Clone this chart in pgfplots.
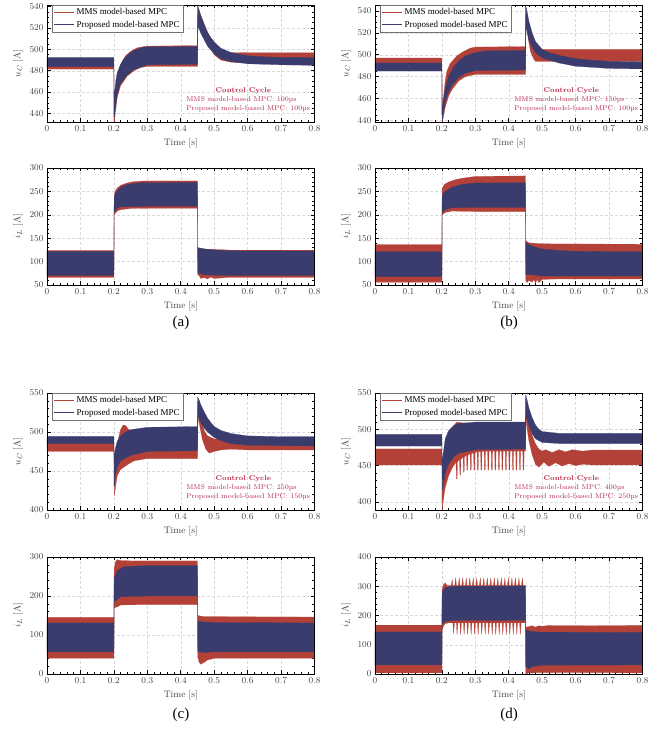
\documentclass[border=0pt]{standalone}
\usepackage{fontspec}
\usepackage{pgfplots}
\pgfplotsset{compat=1.18}
\usepgfplotslibrary{fillbetween}
\newfontfamily\timesf{Liberation Serif}
\definecolor{mmsred}{RGB}{180,65,55}
\definecolor{propblue}{RGB}{58,60,110}
\definecolor{ccred}{RGB}{185,40,75}

\pgfplotsset{
  panel/.style={
    scale only axis, width=267.5pt, height=117pt,
    xmin=0, xmax=0.8, xtick={0,0.1,0.2,0.3,0.4,0.5,0.6,0.7,0.8},
    minor x tick num=4,
    grid=major, major grid style={dash pattern=on 3pt off 2pt, black!15, line width=0.4pt},
    tick align=inside, major tick length=3.5pt, minor tick length=2pt,
    every tick/.style={black, line width=0.5pt},
    axis line style={black, line width=0.8pt},
    tick label style={font=\fontsize{9.5}{10}\selectfont, text=black!75},
    label style={font=\fontsize{9.5}{10}\selectfont, text=black!75},
    xlabel={Time [s]},
    clip=false,
    legend style={at={(0.018,1)}, anchor=north west, draw=black!55, line width=0.5pt,
      font=\timesf\fontsize{9}{10}\selectfont, inner sep=1.5pt, row sep=0.5pt},
    legend cell align=left,
    legend image code/.code={\draw[##1] (0pt,0pt) -- (20pt,0pt);},
  },
  edge/.style={draw=none, forget plot},
}
\newcommand{\band}[3]{\addplot[fill=#1, draw=#1, line width=0.2pt, forget plot] fill between[of=#2 and #3];}
\newcommand{\boxline}{\draw[black, line width=0.8pt] (rel axis cs:0,0) rectangle (rel axis cs:1,1);}
\newcommand{\cyclenote}[2]{%
  \node[anchor=center, inner sep=0pt, font=\bfseries\fontsize{7}{9}\selectfont, text=ccred] at (rel axis cs:0.734,0.271) {Control Cycle};
  \node[anchor=west, inner sep=0pt, font=\fontsize{7}{9}\selectfont, text=ccred] at (rel axis cs:0.52,0.191) {MMS model-based MPC: #1\textmu s};
  \node[anchor=west, inner sep=0pt, font=\fontsize{7}{9}\selectfont, text=ccred] at (rel axis cs:0.52,0.114) {Proposed model-based MPC: #2\textmu s};
  \addlegendimage{mmsred, line width=1pt}\addlegendentry{MMS model-based MPC}
  \addlegendimage{propblue, line width=1pt}\addlegendentry{Proposed model-based MPC}
}

\begin{document}
\begin{tikzpicture}

% ---------------- (a) top: u_C ----------------
\begin{axis}[panel, at={(47pt,618pt)}, anchor=south west,
  ymin=432, ymax=541.5, ytick={440,460,480,500,520,540}, minor y tick num=3,
  ylabel={$u_C$ [A]}]
\addplot[edge, name path=aru] coordinates {(0,487) (0.2,487) (0.2003,440) (0.2015,445) (0.205,462) (0.21,476) (0.22,486) (0.235,494) (0.25,498) (0.27,501.5) (0.3,503) (0.45,503.5) (0.4505,541) (0.455,537) (0.46,532) (0.47,524) (0.48,516) (0.49,510) (0.5,505) (0.52,500) (0.55,497) (0.6,496.8) (0.8,496.8)};
\addplot[edge, name path=arl] coordinates {(0,481.5) (0.2,481.5) (0.2003,432) (0.2015,432) (0.205,442) (0.21,455) (0.22,466) (0.24,475) (0.26,480) (0.28,483) (0.3,484) (0.45,484) (0.4505,484) (0.4515,530) (0.455,526) (0.46,520) (0.47,512) (0.48,505) (0.5,495) (0.52,490) (0.55,488) (0.6,487.5) (0.65,487) (0.8,487)};
\band{mmsred}{aru}{arl}
\addplot[edge, name path=abu] coordinates {(0,492.5) (0.2,492.5) (0.2003,460) (0.203,462) (0.206,471) (0.21,478) (0.219,485) (0.23,491) (0.245,496) (0.26,499) (0.29,502.3) (0.45,502.5) (0.4505,540) (0.455,536) (0.46,531) (0.47,523) (0.48,516) (0.49,511) (0.5,507) (0.52,501) (0.55,497) (0.6,494) (0.65,493) (0.7,492.5) (0.8,492.3)};
\addplot[edge, name path=abl] coordinates {(0,483.75) (0.2,483.75) (0.2003,437) (0.2015,437) (0.205,446) (0.21,458) (0.22,468) (0.24,476) (0.26,481) (0.3,485.5) (0.45,486) (0.4505,486) (0.4515,522) (0.46,515) (0.47,509) (0.48,503) (0.5,496) (0.52,491) (0.55,488.5) (0.6,486.5) (0.7,485.5) (0.8,485)};
\band{propblue}{abu}{abl}
\boxline
\cyclenote{100}{100}
\end{axis}

% ---------------- (a) bottom: i_L ----------------
\begin{axis}[panel, at={(47pt,455pt)}, anchor=south west,
  ymin=50, ymax=300, ytick={50,100,150,200,250,300}, minor y tick num=4,
  ylabel={$i_L$ [A]}]
\addplot[edge, name path=aru] coordinates {(0,124) (0.2,124) (0.2008,240) (0.205,252) (0.21,257) (0.22,263) (0.24,268) (0.26,271) (0.3,272.5) (0.45,272.5) (0.4505,129) (0.47,127) (0.5,126) (0.55,124.5) (0.8,124.5)};
\addplot[edge, name path=arl] coordinates {(0,66.5) (0.2,66.5) (0.2008,200) (0.205,204) (0.21,208) (0.22,211) (0.25,213.5) (0.3,214) (0.45,214) (0.4505,72) (0.455,70) (0.46,64) (0.47,66) (0.48,63) (0.49,67) (0.5,64) (0.55,66.5) (0.8,66.5)};
\band{mmsred}{aru}{arl}
\addplot[edge, name path=abu] coordinates {(0,122) (0.2,122) (0.2008,235) (0.205,247) (0.21,251) (0.22,259) (0.24,265) (0.28,268.5) (0.45,269.5) (0.4505,130) (0.47,127) (0.5,125) (0.55,123) (0.8,122.5)};
\addplot[edge, name path=abl] coordinates {(0,70) (0.2,70) (0.2008,205) (0.21,214) (0.22,217) (0.3,218) (0.45,218) (0.4505,76) (0.47,72) (0.5,71) (0.55,70) (0.8,70)};
\band{propblue}{abu}{abl}
\boxline
\end{axis}

% ---------------- (b) top ----------------
\begin{axis}[panel, at={(375pt,618pt)}, anchor=south west,
  ymin=438.5, ymax=545.5, ytick={440,460,480,500,520,540}, minor y tick num=3,
  ylabel={$u_C$ [A]}]
\addplot[edge, name path=bru] coordinates {(0,497) (0.2,497) (0.2003,445) (0.205,462) (0.21,476) (0.215,485) (0.225,492) (0.245,499) (0.265,503) (0.285,506) (0.3,507) (0.45,507.5) (0.4505,545) (0.455,537) (0.46,526) (0.465,515) (0.47,508) (0.48,505) (0.8,505)};
\addplot[edge, name path=brl] coordinates {(0,488) (0.2,488) (0.2015,438.5) (0.205,444) (0.21,452) (0.22,462) (0.23,468) (0.25,476) (0.27,480) (0.3,482) (0.45,482) (0.4505,482) (0.4515,530) (0.458,515) (0.465,503) (0.475,496) (0.48,494) (0.5,494) (0.8,494)};
\band{mmsred}{bru}{brl}
\addplot[edge, name path=bbu] coordinates {(0,492.5) (0.2,492.5) (0.2003,445) (0.205,458) (0.21,469) (0.22,480) (0.235,489) (0.25,494) (0.27,499) (0.3,502) (0.33,503.5) (0.45,504) (0.4505,545) (0.455,539) (0.46,531) (0.47,520) (0.48,512) (0.5,505) (0.52,502) (0.55,499.5) (0.6,496.5) (0.65,495) (0.7,494) (0.8,493.5)};
\addplot[edge, name path=bbl] coordinates {(0,485) (0.2,485) (0.2015,440) (0.205,448) (0.21,457) (0.22,466) (0.23,472) (0.25,479) (0.27,483) (0.3,485.5) (0.45,486) (0.4505,486) (0.4515,526) (0.46,514) (0.47,507) (0.48,502) (0.5,497) (0.55,492.5) (0.6,489.5) (0.7,487.5) (0.8,487)};
\band{propblue}{bbu}{bbl}
\boxline
\cyclenote{150}{100}
\end{axis}

% ---------------- (b) bottom ----------------
\begin{axis}[panel, at={(375pt,455pt)}, anchor=south west,
  ymin=50, ymax=300, ytick={50,100,150,200,250,300}, minor y tick num=4,
  ylabel={$i_L$ [A]}]
\addplot[edge, name path=bru] coordinates {(0,136) (0.2,136) (0.2008,255) (0.205,262) (0.21,266) (0.22,270) (0.24,275) (0.26,278) (0.3,282) (0.45,283) (0.4505,145) (0.46,140) (0.5,138) (0.8,137)};
\addplot[edge, name path=brl] coordinates {(0,56) (0.2,56) (0.2008,200) (0.21,205) (0.23,208) (0.3,207) (0.45,207) (0.4505,60) (0.455,55) (0.46,60) (0.47,56) (0.475,62) (0.48,54) (0.485,62) (0.49,55) (0.5,62) (0.55,63) (0.8,63)};
\band{mmsred}{bru}{brl}
\addplot[edge, name path=bbu] coordinates {(0,121) (0.2,121) (0.2008,240) (0.205,246) (0.21,250) (0.23,259) (0.26,265) (0.3,268) (0.45,268.5) (0.4505,140) (0.47,133) (0.5,127) (0.55,124) (0.6,122) (0.8,121)};
\addplot[edge, name path=bbl] coordinates {(0,68) (0.2,68) (0.2008,205) (0.21,211) (0.23,215) (0.3,216) (0.45,216) (0.4505,72) (0.47,72) (0.5,69) (0.8,69)};
\band{propblue}{bbu}{bbl}
\boxline
\end{axis}

% ---------------- (c) top ----------------
\begin{axis}[panel, at={(47pt,230pt)}, anchor=south west,
  ymin=400, ymax=550, ytick={400,450,500,550}, minor y tick num=4,
  ylabel={$u_C$ [A]}]
\addplot[edge, name path=cru] coordinates {(0,488) (0.2,488) (0.2003,430) (0.205,455) (0.21,478) (0.215,494) (0.22,503) (0.228,509) (0.235,508) (0.245,503) (0.26,500) (0.3,500) (0.45,500) (0.4505,540) (0.455,528) (0.46,515) (0.47,502) (0.48,495) (0.5,491) (0.55,490) (0.8,490)};
\addplot[edge, name path=crl] coordinates {(0,475) (0.2,475) (0.2015,418) (0.205,430) (0.21,444) (0.22,452) (0.24,458) (0.26,463) (0.3,466) (0.45,466) (0.4505,466) (0.4515,520) (0.458,505) (0.465,490) (0.475,478) (0.485,473) (0.5,475) (0.52,477) (0.55,478) (0.6,477) (0.8,477)};
\band{mmsred}{cru}{crl}
\addplot[edge, name path=cbu] coordinates {(0,494.5) (0.2,494.5) (0.2003,470) (0.205,480) (0.21,488) (0.22,495) (0.235,500) (0.25,503) (0.3,506) (0.45,507) (0.4505,545) (0.455,541) (0.46,535) (0.47,526) (0.48,518) (0.49,512) (0.5,507) (0.52,502) (0.55,498) (0.6,495) (0.7,494) (0.8,494)};
\addplot[edge, name path=cbl] coordinates {(0,485) (0.2,485) (0.2015,430) (0.205,445) (0.21,455) (0.22,463) (0.25,470) (0.3,475) (0.45,476) (0.4505,476) (0.4515,522) (0.46,512) (0.47,505) (0.48,500) (0.5,493) (0.52,489) (0.55,485) (0.6,483) (0.8,482)};
\band{propblue}{cbu}{cbl}
\boxline
\cyclenote{250}{150}
\end{axis}

% ---------------- (c) bottom ----------------
\begin{axis}[panel, at={(47pt,66pt)}, anchor=south west,
  ymin=0, ymax=300, ytick={0,100,200,300}, minor y tick num=4,
  ylabel={$i_L$ [A]}]
\addplot[edge, name path=cru] coordinates {(0,145) (0.2,145) (0.2008,270) (0.205,288) (0.21,293) (0.22,291) (0.25,290) (0.45,290) (0.4505,150) (0.47,147) (0.8,146)};
\addplot[edge, name path=crl] coordinates {(0,40) (0.2,40) (0.2008,170) (0.21,172) (0.22,177) (0.3,178) (0.45,178) (0.4505,45) (0.455,30) (0.46,25) (0.47,30) (0.48,36) (0.5,40) (0.8,40)};
\band{mmsred}{cru}{crl}
\addplot[edge, name path=cbu] coordinates {(0,131) (0.2,131) (0.2008,245) (0.21,265) (0.23,275) (0.3,278) (0.45,278) (0.4505,135) (0.5,132) (0.8,131)};
\addplot[edge, name path=cbl] coordinates {(0,57) (0.2,57) (0.2008,185) (0.22,198) (0.3,200) (0.45,200) (0.4505,58) (0.47,55) (0.5,57) (0.8,57)};
\band{propblue}{cbu}{cbl}
\boxline
\end{axis}

% ---------------- (d) top ----------------
\begin{axis}[panel, at={(375pt,230pt)}, anchor=south west,
  ymin=389, ymax=550, ytick={400,450,500,550}, minor y tick num=4,
  ylabel={$u_C$ [A]}]
\addplot[edge, name path=dru] coordinates {(0,473) (0.2,473) (0.2003,400) (0.205,440) (0.21,470) (0.22,490) (0.235,505) (0.245,510) (0.26,509) (0.3,508) (0.45,508) (0.4505,545) (0.455,528) (0.46,510) (0.47,492) (0.48,480) (0.49,473) (0.5,470) (0.51,472) (0.53,468) (0.55,472) (0.57,469) (0.59,472) (0.62,470) (0.65,471.5) (0.8,471.5)};
\addplot[edge, name path=drl] coordinates {(0,451) (0.2,451) (0.2015,389) (0.205,405) (0.21,420) (0.215,428) (0.22,436) (0.225,441) (0.23,446) (0.235,450) (0.24,453)
 (0.2425,455) (0.2435,432) (0.2455,432) (0.2465,455) (0.253,459) (0.254,437) (0.256,437) (0.257,459) (0.2635,462) (0.2645,441) (0.2665,441) (0.2675,462)
 (0.274,464.5) (0.275,444) (0.277,444) (0.278,464.5) (0.2845,466.5) (0.2855,444) (0.2875,444) (0.2885,466.5) (0.295,468) (0.296,444) (0.298,444) (0.299,468)
 (0.3055,469) (0.3065,444) (0.3085,444) (0.3095,469) (0.316,469.5) (0.317,444) (0.319,444) (0.32,469.5) (0.3265,470) (0.3275,444) (0.3295,444) (0.3305,470)
 (0.337,470) (0.338,444) (0.34,444) (0.341,470) (0.3475,470) (0.3485,444) (0.3505,444) (0.3515,470) (0.358,470) (0.359,444) (0.361,444) (0.362,470)
 (0.3685,470) (0.3695,444) (0.3715,444) (0.3725,470) (0.379,470) (0.38,444) (0.382,444) (0.383,470) (0.3895,470) (0.3905,444) (0.3925,444) (0.3935,470)
 (0.4,470) (0.401,444) (0.403,444) (0.404,470) (0.4105,470) (0.4115,444) (0.4135,444) (0.4145,470) (0.421,470) (0.422,444) (0.424,444) (0.425,470)
 (0.4315,470) (0.4325,444) (0.4345,444) (0.4355,470) (0.442,470) (0.443,444) (0.445,444) (0.446,470)
 (0.45,470) (0.4505,470) (0.4515,515) (0.455,500) (0.46,485) (0.47,465) (0.48,452) (0.49,448) (0.505,455) (0.52,449) (0.54,454) (0.56,449.5) (0.58,453) (0.6,450) (0.62,452) (0.65,451) (0.8,451)};
\band{mmsred}{dru}{drl}
\addplot[edge, name path=dbu] coordinates {(0,493) (0.2,493) (0.2003,455) (0.205,470) (0.21,487) (0.22,498) (0.235,505) (0.25,508) (0.3,510) (0.45,510) (0.4505,548) (0.455,540) (0.46,530) (0.47,516) (0.48,506) (0.49,500) (0.5,497) (0.55,494.5) (0.8,494.5)};
\addplot[edge, name path=dbl] coordinates {(0,477) (0.2,477) (0.2015,415) (0.205,425) (0.21,440) (0.22,452) (0.235,462) (0.25,467) (0.3,472) (0.45,473) (0.4505,473) (0.4515,520) (0.46,505) (0.47,494) (0.48,487) (0.5,482) (0.55,480.5) (0.8,480.5)};
\band{propblue}{dbu}{dbl}
\boxline
\cyclenote{400}{250}
\end{axis}

% ---------------- (d) bottom ----------------
\begin{axis}[panel, at={(375pt,66pt)}, anchor=south west,
  ymin=0, ymax=400, ytick={0,100,200,300,400}, minor y tick num=4,
  ylabel={$i_L$ [A]}]
\addplot[edge, name path=dru] coordinates {(0,167) (0.2,167) (0.2008,290) (0.205,305) (0.21,312) (0.215,303) (0.22,303)
 (0.228,303) (0.231,322) (0.233,303) (0.2385,303) (0.2415,328) (0.2435,303) (0.249,303) (0.252,328) (0.254,303)
 (0.2595,303) (0.2625,328) (0.2645,303) (0.27,303) (0.273,328) (0.275,303) (0.2805,303) (0.2835,328) (0.2855,303)
 (0.291,303) (0.294,328) (0.296,303) (0.3015,303) (0.3045,328) (0.3065,303) (0.312,303) (0.315,328) (0.317,303)
 (0.3225,303) (0.3255,328) (0.3275,303) (0.333,303) (0.336,328) (0.338,303) (0.3435,303) (0.3465,328) (0.3485,303)
 (0.354,303) (0.357,328) (0.359,303) (0.3645,303) (0.3675,328) (0.3695,303) (0.375,303) (0.378,328) (0.38,303)
 (0.3855,303) (0.3885,328) (0.3905,303) (0.396,303) (0.399,328) (0.401,303) (0.4065,303) (0.4095,328) (0.4115,303)
 (0.417,303) (0.42,328) (0.422,303) (0.4275,303) (0.4305,328) (0.4325,303) (0.438,303) (0.441,328) (0.443,303)
 (0.45,303) (0.4505,160) (0.46,162) (0.47,165) (0.48,160) (0.49,165) (0.5,163) (0.52,166) (0.55,165) (0.8,166)};
\addplot[edge, name path=drl] coordinates {(0,4) (0.2,4) (0.2008,150) (0.205,165) (0.21,172) (0.22,175)
 (0.233,175) (0.235,138) (0.2375,175) (0.2435,175) (0.2455,135) (0.248,175) (0.254,175) (0.256,135) (0.2585,175)
 (0.2645,175) (0.2665,135) (0.269,175) (0.275,175) (0.277,135) (0.2795,175) (0.2855,175) (0.2875,135) (0.29,175)
 (0.296,175) (0.298,135) (0.3005,175) (0.3065,175) (0.3085,135) (0.311,175) (0.317,175) (0.319,135) (0.3215,175)
 (0.3275,175) (0.3295,135) (0.332,175) (0.338,175) (0.34,135) (0.3425,175) (0.3485,175) (0.3505,135) (0.353,175)
 (0.359,175) (0.361,135) (0.3635,175) (0.3695,175) (0.3715,135) (0.374,175) (0.38,175) (0.382,135) (0.3845,175)
 (0.3905,175) (0.3925,135) (0.395,175) (0.401,175) (0.403,135) (0.4055,175) (0.4115,175) (0.4135,135) (0.416,175)
 (0.422,175) (0.424,135) (0.4265,175) (0.4325,175) (0.4345,135) (0.437,175)
 (0.45,175) (0.4505,0) (0.455,0) (0.46,5) (0.47,3) (0.48,5) (0.8,4)};
\band{mmsred}{dru}{drl}
\addplot[edge, name path=dbu] coordinates {(0,144) (0.2,144) (0.2008,280) (0.21,295) (0.23,300) (0.45,301) (0.4505,150) (0.47,145) (0.5,143) (0.8,142)};
\addplot[edge, name path=dbl] coordinates {(0,31) (0.2,31) (0.2008,170) (0.21,180) (0.23,183) (0.45,184) (0.4505,25) (0.46,18) (0.47,25) (0.5,30) (0.8,31)};
\band{propblue}{dbu}{dbl}
\boxline
\end{axis}

\node[font=\timesf\fontsize{15}{17}\selectfont] at (181pt,417pt) {(a)};
\node[font=\timesf\fontsize{15}{17}\selectfont] at (509pt,417pt) {(b)};
\node[font=\timesf\fontsize{15}{17}\selectfont] at (181pt,25pt) {(c)};
\node[font=\timesf\fontsize{15}{17}\selectfont] at (509pt,25pt) {(d)};
\pgfresetboundingbox
\useasboundingbox (0pt,0pt) rectangle (671pt,740pt);
\end{tikzpicture}
\end{document}
